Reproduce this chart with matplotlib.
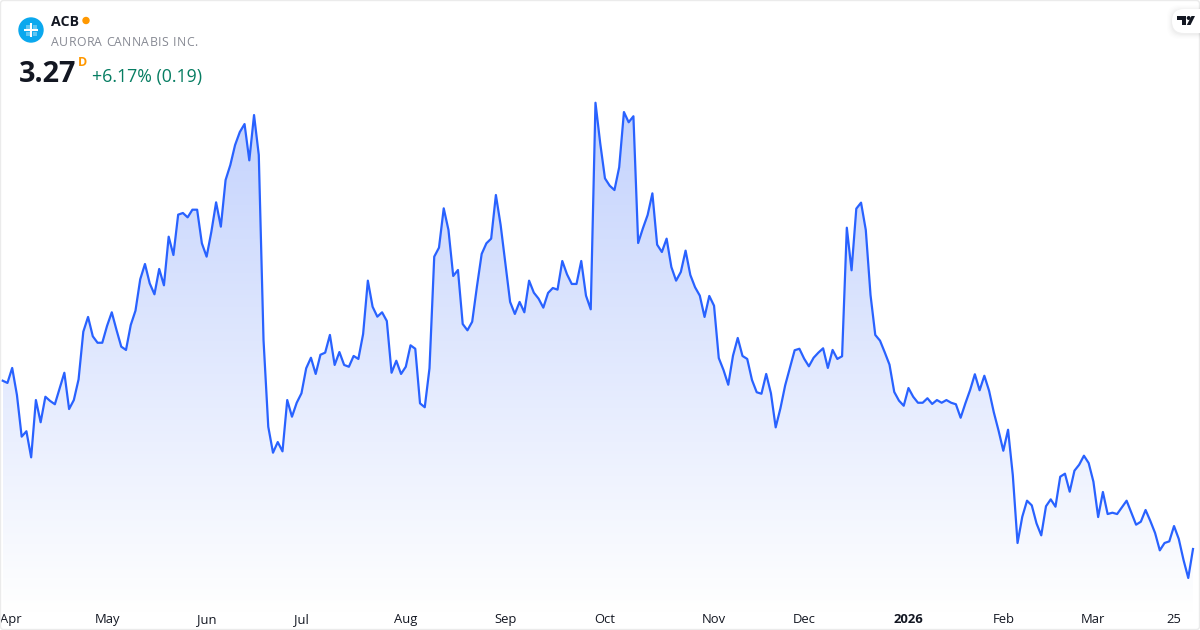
import numpy as np
import matplotlib
matplotlib.use("Agg")
import matplotlib.pyplot as plt
from matplotlib.colors import LinearSegmentedColormap
from matplotlib.patches import Circle, FancyBboxPatch, Polygon, Rectangle

ticker = "ACB"
company = "AURORA CANNABIS INC."
last_price = "3.27"
change_text = "+6.17% (0.19)"

prices = [
    4.392, 4.377, 4.477, 4.297, 4.019, 4.055, 3.881, 4.263, 4.115, 4.285,
    4.257, 4.235, 4.339, 4.445, 4.203, 4.263, 4.401, 4.719, 4.817, 4.688,
    4.645, 4.645, 4.757, 4.848, 4.730, 4.619, 4.597, 4.763, 4.859, 5.068,
    5.170, 5.041, 4.968, 5.137, 5.028, 5.352, 5.230, 5.499, 5.510, 5.481,
    5.532, 5.532, 5.308, 5.219, 5.385, 5.581, 5.419, 5.730, 5.830, 5.963,
    6.050, 6.103, 5.861, 6.163, 5.897, 4.663, 4.085, 3.912, 3.983, 3.921,
    4.263, 4.152, 4.245, 4.308, 4.475, 4.545, 4.437, 4.565, 4.579, 4.697,
    4.497, 4.583, 4.497, 4.485, 4.557, 4.537, 4.703, 5.059, 4.885, 4.819,
    4.848, 4.790, 4.445, 4.525, 4.437, 4.485, 4.628, 4.605, 4.241, 4.215,
    4.475, 5.219, 5.279, 5.541, 5.397, 5.090, 5.130, 4.770, 4.728, 4.785,
    5.019, 5.237, 5.308, 5.339, 5.630, 5.430, 5.175, 4.917, 4.837, 4.917,
    4.848, 5.059, 4.979, 4.939, 4.879, 4.977, 5.010, 4.999, 5.190, 5.101,
    5.037, 5.037, 5.190, 4.959, 4.868, 6.245, 5.975, 5.741, 5.692, 5.663,
    5.815, 6.183, 6.115, 6.155, 5.310, 5.408, 5.497, 5.641, 5.299, 5.250,
    5.339, 5.150, 5.059, 5.117, 5.259, 5.097, 5.015, 4.959, 4.817, 4.957,
    4.892, 4.543, 4.463, 4.365, 4.559, 4.677, 4.557, 4.537, 4.397, 4.315,
    4.305, 4.437, 4.308, 4.081, 4.208, 4.361, 4.477, 4.595, 4.605, 4.539,
    4.488, 4.545, 4.579, 4.608, 4.477, 4.597, 4.537, 4.555, 5.412, 5.128,
    5.539, 5.579, 5.397, 4.963, 4.697, 4.659, 4.581, 4.499, 4.317, 4.259,
    4.225, 4.343, 4.285, 4.245, 4.245, 4.275, 4.237, 4.263, 4.245, 4.263,
    4.245, 4.235, 4.145, 4.241, 4.330, 4.435, 4.328, 4.425, 4.325, 4.181,
    4.059, 3.925, 4.065, 3.763, 3.310, 3.485, 3.592, 3.561, 3.441, 3.361,
    3.555, 3.601, 3.552, 3.752, 3.772, 3.652, 3.792, 3.832, 3.892, 3.843,
    3.719, 3.483, 3.650, 3.503, 3.512, 3.503, 3.548, 3.592, 3.512, 3.432,
    3.452, 3.530, 3.457, 3.377, 3.261, 3.310, 3.321, 3.423, 3.337, 3.197,
    3.077, 3.270,
]
tick_labels = ["Apr", "May", "Jun", "Jul", "Aug", "Sep", "Oct", "Nov", "Dec", "2026", "Feb", "Mar", "25"]
tick_index = [1.8, 22, 43, 63, 85, 106, 127, 150, 169, 191, 211, 230, 247]

plt.rcParams["font.family"] = ["Open Sans", "DejaVu Sans"]

W, H = 1200, 630
fig = plt.figure(figsize=(W / 100, H / 100), dpi=100, facecolor="white")

# the price axes fill the whole figure, limits picked so the line lands on the same pixels
ax = fig.add_axes([0, 0, 1, 1])
x = np.arange(len(prices))
px_per_bar = (1193.0 - 2.7) / (len(prices) - 1)
xlim = (-2.7 / px_per_bar, (W - 2.7) / px_per_bar)
ylim = (2.73, 6.93)
ax.axis("off")

# gradient under the line
cmap = LinearSegmentedColormap.from_list("area", ["#c3d2fd", "#ffffff"])
top_y, bottom_y = max(prices), 2.84
grad = np.linspace(0, 1, 256).reshape(-1, 1)
img = ax.imshow(grad, cmap=cmap, aspect="auto", zorder=1,
                extent=[x[0], x[-1], bottom_y, top_y], origin="upper")
area = ax.fill_between(x, prices, bottom_y, color="none")
img.set_clip_path(area.get_paths()[0], transform=ax.transData)
ax.set_xlim(xlim)
ax.set_ylim(ylim)

ax.plot(x, prices, color="#2962ff", linewidth=1.6, solid_joinstyle="round", zorder=2)

for pos, label in zip(tick_index, tick_labels):
    ax.text(pos, 12 / H, label, transform=ax.get_xaxis_transform(), ha="center", va="center_baseline",
            fontsize=9.4, color="#131722", fontweight="bold" if label == "2026" else "normal", zorder=3)

# overlay in pixel coordinates for the header and the frame
ov = fig.add_axes([0, 0, 1, 1], facecolor="none")
ov.set_xlim(0, W)
ov.set_ylim(H, 0)
ov.axis("off")

ov.add_patch(FancyBboxPatch((0.5, 0.5), W - 1, H - 1, boxstyle="round,pad=0,rounding_size=3",
                            fill=False, edgecolor="#ebebeb", linewidth=1.0))

# company logo
ov.add_patch(Circle((31, 30), 12, color="#0aa8ee"))
ov.plot([31, 31], [23, 37], color="white", lw=1.5, solid_capstyle="butt")
ov.plot([24, 38], [30, 30], color="white", lw=1.5, solid_capstyle="butt")
for mx, my in [(27.5, 26.5), (34.5, 26.5), (27.5, 33.5), (34.5, 33.5)]:
    ov.add_patch(Rectangle((mx - 2, my - 2), 4, 4, color="white", alpha=0.35, lw=0))

ov.text(51, 21.5, ticker, fontsize=10.2, fontweight="bold", color="#131722", va="center", ha="left")
ov.add_patch(Circle((86, 20.5), 3, color="#ff9800"))

# company name has letter spacing in the reference, so each letter goes out on its own
renderer = fig.canvas.get_renderer()
for i, ch in enumerate(company):
    probe = ov.text(0, 0, company[:i] + "|", fontsize=8.8)
    bar = ov.text(0, 0, "|", fontsize=8.8)
    offset = probe.get_window_extent(renderer).width - bar.get_window_extent(renderer).width
    probe.remove()
    bar.remove()
    ov.text(51 + offset + i * 0.37, 40.5, ch, fontsize=8.8, color="#868993", va="center_baseline", ha="left")

ov.text(19, 71, last_price, fontsize=20.8, fontweight="bold", color="#131722", va="center_baseline", ha="left")
ov.text(77.5, 61, "D", fontsize=9, fontweight="bold", color="#ff9800", va="center_baseline", ha="left")
ov.text(92, 75, change_text, fontsize=12.8, color="#067d62", va="center_baseline", ha="left")

# tradingview badge in the corner
for grow, alpha in [(5, 0.006), (4, 0.008), (3, 0.012), (2, 0.015), (1, 0.02)]:
    ov.add_patch(FancyBboxPatch((1172 - grow, 9 - grow + 1), 50 + grow, 24 + 2 * grow,
                                boxstyle="round,pad=0,rounding_size=12", fc="black", ec="none", alpha=alpha))
ov.add_patch(FancyBboxPatch((1172, 9), 50, 24, boxstyle="round,pad=0,rounding_size=12", fc="white", ec="none"))
ov.add_patch(Polygon([(1177, 16), (1186, 16), (1186, 25), (1181.5, 25), (1181.5, 20), (1177, 20)], color="#131722", lw=0))
ov.add_patch(Circle((1188.7, 18), 2, color="#131722", lw=0))
ov.add_patch(Polygon([(1191.5, 16), (1195, 16), (1190.5, 25), (1186.8, 25)], color="#131722", lw=0))

fig.savefig("out.png", dpi=100)
